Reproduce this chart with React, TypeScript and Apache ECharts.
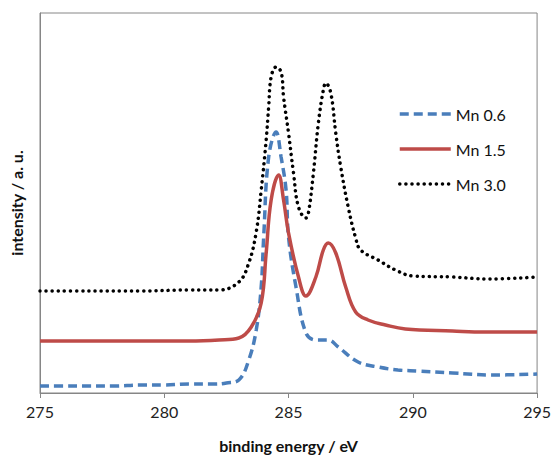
import React, { useEffect, useRef } from "react";
import * as echarts from "echarts";

const xTicks = [275, 280, 285, 290, 295];
const seriesNames = ["Mn 0.6", "Mn 1.5", "Mn 3.0"];

const blueX = [275, 276, 277, 278, 279, 280, 281, 282, 282.5, 283.0, 283.4, 283.7, 283.9, 284.0, 284.2, 284.5, 284.7, 284.9, 285.0, 285.3, 285.7, 286.1, 286.6, 287.0, 287.8, 288.6, 289.4, 290.2, 291.6, 293.2, 295];
const blueY = [7, 7, 7, 7, 8, 8, 9, 9, 10, 13, 33, 63, 106, 156, 236, 261, 236, 203, 156, 106, 60, 53, 53, 46, 31, 26, 23, 22, 20, 18, 19];

const redX = [275, 277, 279, 281, 282.2, 283.0, 283.5, 283.9, 284.1, 284.3, 284.6, 284.8, 285.0, 285.4, 285.7, 286.1, 286.4, 286.6, 286.9, 287.3, 287.7, 288.2, 288.9, 289.7, 291.6, 292.9, 295];
const redY = [52, 52, 52, 52, 53, 55, 66, 90, 140, 193, 218, 193, 160, 116, 97, 116, 143, 150, 140, 106, 81, 73, 68, 64, 62, 61, 61];

const blackX = [275, 277, 279, 281, 282.2, 283.0, 283.4, 283.7, 283.9, 284.1, 284.2, 284.3, 284.5, 284.7, 284.8, 285.0, 285.2, 285.4, 285.7, 285.8, 286.0, 286.2, 286.4, 286.5, 286.7, 286.9, 287.1, 287.4, 287.7, 287.9, 288.6, 289.3, 290.0, 291.6, 293.0, 295];
const blackY = [102, 102, 102, 103, 103, 111, 130, 161, 203, 253, 286, 316, 326, 321, 296, 260, 220, 186, 175, 180, 220, 270, 303, 310, 300, 260, 226, 186, 155, 143, 133, 123, 117, 116, 114, 116];

const zip = (xs: number[], ys: number[]) => xs.map((x, i) => [x, ys[i]]);

export default function App() {
  const ref = useRef<HTMLDivElement>(null);
  useEffect(() => {
    document.body.style.margin = "0";
    if (!ref.current) return;
    const chart = echarts.init(ref.current, null, { renderer: "svg" });
    const font = "Lato, 'Open Sans', sans-serif";
    chart.setOption({
      animation: false,
      backgroundColor: "#ffffff",
      grid: {
        left: 40,
        right: 15,
        top: 13,
        bottom: 65,
        show: true,
        borderColor: "#868686",
        borderWidth: 1,
      },
      legend: {
        orient: "vertical",
        left: 393,
        top: 101,
        itemWidth: 51,
        itemHeight: 14,
        itemGap: 19,
        data: seriesNames,
        itemStyle: { opacity: 0 },
        lineStyle: { width: 3.5 },
        textStyle: { fontSize: 16, color: "#111", fontFamily: font },
      },
      xAxis: {
        type: "value",
        min: 275,
        max: 295,
        interval: 5,
        name: "binding energy / eV",
        nameLocation: "middle",
        nameGap: 44,
        nameTextStyle: { fontSize: 16, fontWeight: "bold", color: "#111", fontFamily: font },
        axisLine: { show: true, lineStyle: { color: "#868686", width: 1 } },
        axisTick: { show: true, inside: false, length: 5, lineStyle: { color: "#868686" } },
        axisLabel: {
          fontSize: 16,
          color: "#222",
          fontFamily: font,
          margin: 10,
          formatter: (v: number) => (xTicks.includes(v) ? String(v) : ""),
        },
        splitLine: { show: false },
      },
      yAxis: {
        type: "value",
        min: 0,
        max: 380,
        name: "intensity / a. u.",
        nameLocation: "middle",
        nameGap: 16,
        nameTextStyle: { fontSize: 16, fontWeight: "bold", color: "#111", fontFamily: font },
        axisLine: { show: true, lineStyle: { color: "#868686", width: 1 } },
        axisTick: { show: false },
        axisLabel: { show: false },
        splitLine: { show: false },
      },
      series: [
        {
          name: seriesNames[0],
          type: "line",
          data: zip(blueX, blueY),
          smooth: 0.4,
          symbol: "none",
          lineStyle: { color: "#4A7EBB", width: 3.5, type: [9, 5] },
          itemStyle: { color: "#4A7EBB" },
        },
        {
          name: seriesNames[1],
          type: "line",
          data: zip(redX, redY),
          smooth: 0.4,
          symbol: "none",
          lineStyle: { color: "#BE4B48", width: 3.5, type: "solid" },
          itemStyle: { color: "#BE4B48" },
        },
        {
          name: seriesNames[2],
          type: "line",
          data: zip(blackX, blackY),
          smooth: 0.4,
          symbol: "none",
          lineStyle: { color: "#000000", width: 3.5, type: [0.1, 6], cap: "round" },
          itemStyle: { color: "#000000" },
        },
      ],
    });
    return () => chart.dispose();
  }, []);
  return <div ref={ref} style={{ width: 554, height: 458 }} />;
}
